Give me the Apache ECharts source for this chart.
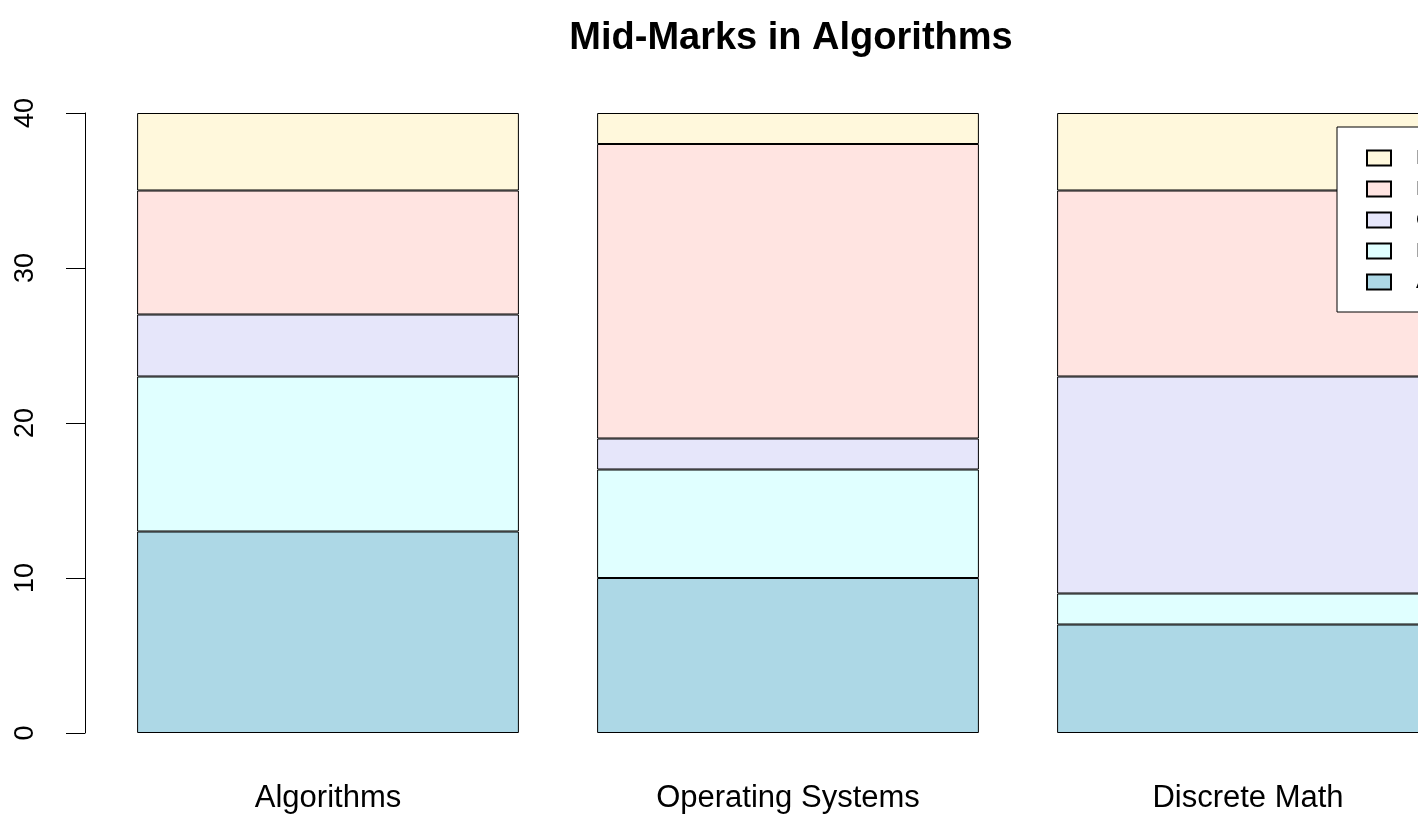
<!DOCTYPE html>
<html>
<head>
<meta charset="utf-8">
<script src="https://cdn.jsdelivr.net/npm/echarts@6/dist/echarts.min.js"></script>
<style>
  html, body { margin: 0; padding: 0; background: #fff; overflow: hidden; }
  /* the plot runs past the right edge of the window, as in the original */
  #chart { width: 1478px; height: 818px; }
</style>
</head>
<body>
<div id="chart"></div>
<script>
var subjects = ['Algorithms', 'Operating Systems', 'Discrete Math'];
var groups = ['A', 'B', 'C', 'D', 'E'];
var colors = ['#ADD8E6', '#E0FFFF', '#E6E6FA', '#FFE4E1', '#FFF8DC'];
// stacked from bottom to top
var marksA = [13, 10, 7];
var marksB = [10, 7, 2];
var marksC = [4, 2, 14];
var marksD = [8, 19, 12];
var marksE = [5, 2, 5];
var yTicks = [0, 10, 20, 30, 40];

var values = [marksA, marksB, marksC, marksD, marksE];
var font = 'Liberation Sans, Arial, sans-serif';

var series = groups.map(function(g, i) {
    return {
        name: g,
        type: 'bar',
        stack: 'marks',
        data: values[i],
        barCategoryGap: '17%',
        itemStyle: { color: colors[i], borderColor: '#000', borderWidth: 1 },
        emphasis: { disabled: true }
    };
});

var chart = echarts.init(document.getElementById('chart'));
chart.setOption({
    animation: false,
    backgroundColor: '#fff',
    title: {
        text: 'Mid-Marks in Algorithms',
        left: 786, top: 15, textAlign: 'center',
        textStyle: { fontFamily: font, fontSize: 38, fontWeight: 'bold', color: '#000' }
    },
    legend: {
        data: groups.slice().reverse(),
        orient: 'vertical',
        left: 1337, top: 127,
        padding: [21, 30, 20, 29],
        itemWidth: 24, itemHeight: 15, itemGap: 11,
        backgroundColor: '#fff',
        borderColor: '#000', borderWidth: 1, borderRadius: 0,
        icon: 'rect',
        textStyle: { fontFamily: font, fontSize: 20, color: '#000', padding: [0, 0, 0, 20] }
    },
    grid: { left: 98, top: 113, right: 0, bottom: 85 },
    xAxis: {
        type: 'category',
        data: subjects,
        axisLine: { show: false },
        axisTick: { show: false },
        axisLabel: { margin: 50, fontFamily: font, fontSize: 31, color: '#000' }
    },
    yAxis: {
        type: 'value',
        min: yTicks[0], max: yTicks[yTicks.length - 1], interval: 10,
        offset: 13,
        splitLine: { show: false },
        axisLine: { show: true, lineStyle: { color: '#000', width: 1 } },
        axisTick: { show: true, length: 19, lineStyle: { color: '#000' } },
        axisLabel: { rotate: 90, margin: 46, fontFamily: font, fontSize: 27, color: '#000' }
    },
    series: series
});
</script>
</body>
</html>
